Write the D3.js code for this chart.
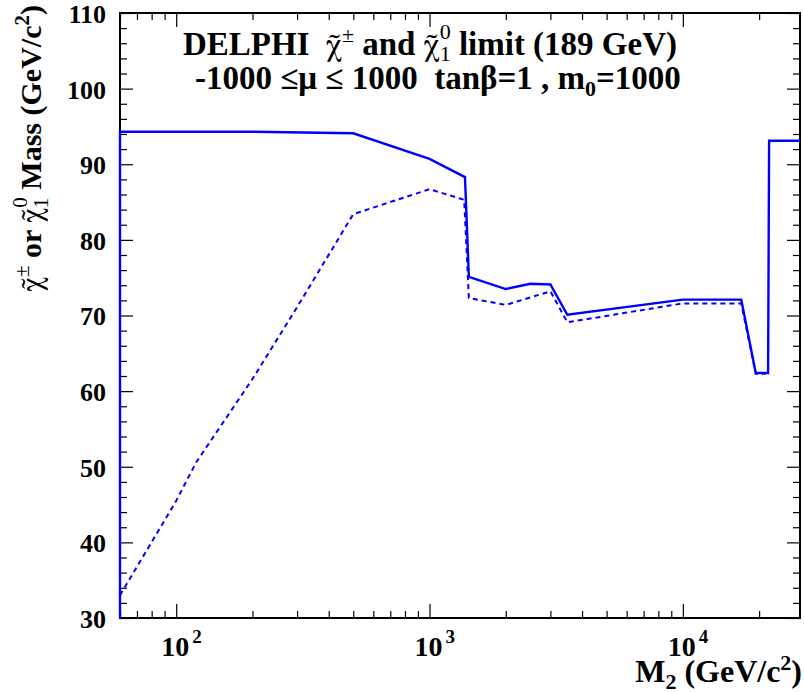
<!DOCTYPE html>
<html>
<head>
<meta charset="utf-8">
<script src="https://cdn.jsdelivr.net/npm/d3@7"></script>
<style>
  html, body { margin: 0; padding: 0; background: #fff; }
  svg { display: block; }
  svg text { font-family: "Liberation Serif", "DejaVu Serif", serif; font-weight: bold; white-space: pre; }
</style>
</head>
<body>
<svg id="chart" width="804" height="692"></svg>
<script>
// ---------- data ----------
const m2Solid = [60, 60, 200, 500, 1000, 1380, 1430, 2000, 2500, 3000, 3500, 10000, 17000, 19400, 21700, 21900, 29000];
const charginoLimit = [30, 94.3, 94.3, 94.1, 90.7, 88.3, 75.1, 73.5, 74.2, 74.1, 70.1, 72.1, 72.1, 62.4, 62.4, 93.1, 93.1];

const m2Dashed = [60, 100, 120, 200, 300, 500, 1000, 1370, 1430, 2000, 3000, 3500, 10000, 17000, 19400, 21200];
const neutralinoLimit = [33.0, 45.5, 50.6, 61.6, 71.1, 83.4, 86.7, 85.3, 72.3, 71.4, 73.2, 69.1, 71.6, 71.6, 62.3, 62.3];

const yMajorTicks = [30, 40, 50, 60, 70, 80, 90, 100, 110];
const xDecadeExponents = [2, 3, 4];

// ---------- layout ----------
const FONT = "Liberation Serif";
const CHI = "FreeSerif";
const svg = d3.select("#chart");
const L = 120, R = 800, T = 13, B = 618;

const x = d3.scaleLog().domain([60, 29000]).range([L, R]);
const y = d3.scaleLinear().domain([30, 110]).range([B, T]);

const yMinor = d3.range(30, 110.01, 2).filter(v => v % 10 !== 0);
const xMajor = xDecadeExponents.map(e => Math.pow(10, e));
const xMinor = [];
[10, 100, 1000, 10000].forEach(d => { for (let k = 2; k <= 9; k++) { const v = k * d; if (v >= 60 && v <= 29000) xMinor.push(v); } });

function styleAxis(g) {
  g.select(".domain").remove();
  g.selectAll(".tick line").attr("stroke", "#000").attr("stroke-width", 1.2);
}

// left axis
svg.append("g").attr("transform", `translate(${L},0)`)
  .call(d3.axisLeft(y).tickValues(yMajorTicks).tickSize(-13).tickPadding(14).tickFormat(d3.format("d")))
  .call(styleAxis)
  .call(g => g.attr("font-family", FONT).attr("font-size", 26));
svg.selectAll("g text").attr("font-family", FONT).attr("font-weight", "bold")
  .attr("font-size", 26).attr("fill", "#000").attr("dy", "0.36em");
svg.append("g").attr("transform", `translate(${L},0)`)
  .call(d3.axisLeft(y).tickValues(yMinor).tickSize(-7).tickFormat(""))
  .call(styleAxis);
// right axis
svg.append("g").attr("transform", `translate(${R},0)`)
  .call(d3.axisRight(y).tickValues(yMajorTicks).tickSize(-13).tickFormat(""))
  .call(styleAxis);
svg.append("g").attr("transform", `translate(${R},0)`)
  .call(d3.axisRight(y).tickValues(yMinor).tickSize(-7).tickFormat(""))
  .call(styleAxis);
// bottom axis
svg.append("g").attr("transform", `translate(0,${B})`)
  .call(d3.axisBottom(x).tickValues(xMajor).tickSize(-14).tickFormat(""))
  .call(styleAxis);
svg.append("g").attr("transform", `translate(0,${B})`)
  .call(d3.axisBottom(x).tickValues(xMinor).tickSize(-7).tickFormat(""))
  .call(styleAxis);
// top axis
svg.append("g").attr("transform", `translate(0,${T})`)
  .call(d3.axisTop(x).tickValues(xMajor).tickSize(-14).tickFormat(""))
  .call(styleAxis);
svg.append("g").attr("transform", `translate(0,${T})`)
  .call(d3.axisTop(x).tickValues(xMinor).tickSize(-7).tickFormat(""))
  .call(styleAxis);

function txt(sel) { return sel.attr("font-family", FONT).attr("font-weight", "bold").attr("fill", "#000"); }
function chi(t) { return t.append("tspan").attr("font-family", CHI).attr("font-weight", "normal").text("χ\u0303"); }

// x tick labels 10^n
xDecadeExponents.forEach(e => {
  const t = txt(svg.append("text")).attr("x", x(Math.pow(10, e)) - 15).attr("y", 656)
    .attr("font-size", 28);
  t.append("tspan").text("10");
  t.append("tspan").attr("dx", 3).attr("dy", -13).attr("font-size", 19).text(String(e));
});

// frame
svg.append("rect").attr("x", L).attr("y", T).attr("width", R - L).attr("height", B - T)
  .attr("fill", "none").attr("stroke", "#000").attr("stroke-width", 2);

// curves
svg.append("clipPath").attr("id", "plotclip")
  .append("rect").attr("x", L - 2).attr("y", T).attr("width", R - L + 2).attr("height", B - T);

const line = d3.line().x(d => x(d[0])).y(d => y(d[1]));
svg.append("path").datum(d3.zip(m2Dashed, neutralinoLimit))
  .attr("d", line).attr("fill", "none").attr("stroke", "#0000ff").attr("stroke-width", 2)
  .attr("stroke-dasharray", "5,4").attr("clip-path", "url(#plotclip)");
svg.append("path").datum(d3.zip(m2Solid, charginoLimit))
  .attr("d", line).attr("fill", "none").attr("stroke", "#0000ff").attr("stroke-width", 2.4)
  .attr("clip-path", "url(#plotclip)");

// title
const t1 = txt(svg.append("text")).attr("x", 183).attr("y", 55).attr("font-size", 33);
t1.append("tspan").text("DELPHI  ");
chi(t1);
t1.append("tspan").attr("dy", -13).attr("font-size", 22).attr("font-weight", "normal").text("±");
t1.append("tspan").attr("dy", 13).text(" and ");
chi(t1);
t1.append("tspan").attr("dy", 6).attr("font-size", 22).attr("font-weight", "normal").text("1");
t1.append("tspan").attr("dx", -11).attr("dy", -22).attr("font-size", 22).attr("font-weight", "normal").text("0");
t1.append("tspan").attr("dy", 16).text(" limit (189 GeV)");

const t2 = txt(svg.append("text")).attr("x", 195).attr("y", 89).attr("font-size", 33);
t2.append("tspan").text("-1000 ≤μ ≤ 1000  tanβ=1 , m");
t2.append("tspan").attr("dy", 7).attr("font-size", 22).text("0");
t2.append("tspan").attr("dy", -7).text("=1000");

// x axis title
const xt = txt(svg.append("text")).attr("x", 802).attr("y", 682).attr("text-anchor", "end")
  .attr("font-size", 32);
xt.append("tspan").text("M");
xt.append("tspan").attr("dy", 7).attr("font-size", 22).text("2");
xt.append("tspan").attr("dy", -7).text(" (GeV/c");
xt.append("tspan").attr("dy", -12).attr("font-size", 22).text("2");
xt.append("tspan").attr("dy", 12).text(")");

// y axis title
const yt = txt(svg.append("text")).attr("transform", "translate(41,5) rotate(-90)")
  .attr("text-anchor", "end").attr("font-size", 30);
chi(yt);
yt.append("tspan").attr("dy", -12).attr("font-size", 21).attr("font-weight", "normal").text("±");
yt.append("tspan").attr("dy", 12).text(" or ");
chi(yt);
yt.append("tspan").attr("dy", 7).attr("font-size", 21).attr("font-weight", "normal").text("1");
yt.append("tspan").attr("dx", -10).attr("dy", -21).attr("font-size", 21).attr("font-weight", "normal").text("0");
yt.append("tspan").attr("dy", 14).text(" Mass (GeV/c");
yt.append("tspan").attr("dy", -12).attr("font-size", 21).text("2");
yt.append("tspan").attr("dy", 12).text(")");
</script>
</body>
</html>
